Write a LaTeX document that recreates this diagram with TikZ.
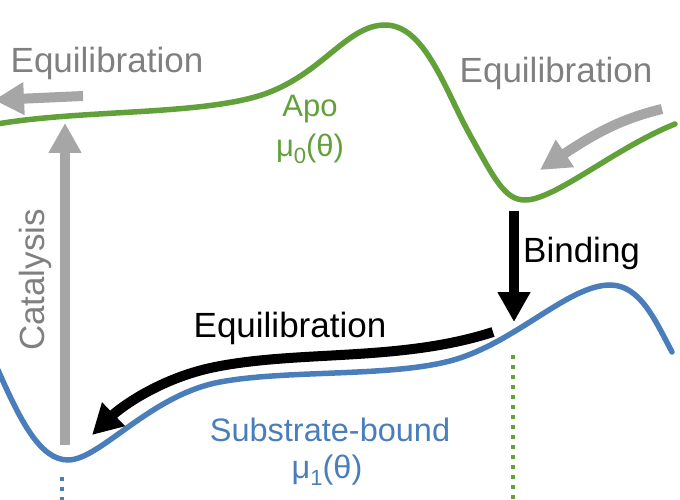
\documentclass[tikz,border=0pt]{standalone}
\usepackage{fontspec}
\setmainfont{Liberation Sans}
\usetikzlibrary{arrows.meta}
\definecolor{apogreen}{RGB}{98,160,58}
\definecolor{subblue}{RGB}{74,126,187}
\definecolor{arrgray}{RGB}{166,166,166}
\definecolor{txtgray}{RGB}{128,128,128}
\newcommand{\mysub}[1]{\raisebox{-0.22em}{\fontsize{22}{22}\selectfont #1}}
\tikzset{
  curve/.style={line width=5.5pt, line cap=round},
  fatarrow/.style={line width=10pt, -{Triangle[length=30pt,width=31pt]}},
  lbl/.style={inner sep=0pt, anchor=base},
  big/.style={font=\fontsize{35}{35}\selectfont},
  mid/.style={font=\fontsize{31}{38}\selectfont},
  dotline/.style={line width=4pt, dash pattern=on 4pt off 6pt}
}
\begin{document}
\begin{tikzpicture}[x=1pt,y=-1pt]
\useasboundingbox (0,0) rectangle (680,500);
% energy curves
\draw[curve, apogreen] (-3,124) .. controls (80,110) and (190,115) .. (255,97)
  .. controls (320,79) and (345,25) .. (385,25)
  .. controls (425,25) and (445,90) .. (470,135)
  .. controls (495,180) and (505,200) .. (525,200)
  .. controls (555,200) and (615,148) .. (675,124);
\draw[curve, subblue] (-2,370) .. controls (20,420) and (40,460) .. (68,460)
  .. controls (100,460) and (150,395) .. (220,382)
  .. controls (290,369) and (400,378) .. (460,358)
  .. controls (520,338) and (570,285) .. (610,285)
  .. controls (640,285) and (655,320) .. (672,352);
% dotted markers
\coordinate (gdotA) at (513,355);
\coordinate (gdotB) at (513,502);
\coordinate (bdotA) at (62,477);
\coordinate (bdotB) at (62,502);
\draw[dotline, apogreen] (gdotA) -- (gdotB);
\draw[dotline, subblue] (bdotA) -- (bdotB);
% arrows
\coordinate (tlS) at (83,96);
\coordinate (tlE) at (-6,100);
\draw[fatarrow, arrgray] (tlS) -- (tlE);
\coordinate (trS) at (662,109);
\coordinate (trE) at (540,170);
\draw[fatarrow, arrgray] (trS) .. controls (625,118) and (600,130) .. (trE);
\coordinate (catS) at (65,445);
\coordinate (catE) at (65,123);
\draw[fatarrow, arrgray] (catS) -- (catE);
\coordinate (binS) at (514,211);
\coordinate (binE) at (514,322);
\draw[fatarrow, black] (binS) -- (binE);
\coordinate (eqS) at (493,332);
\coordinate (eqM) at (215,367);
\coordinate (eqE) at (92,435);
\draw[fatarrow, black] (eqS) .. controls (400,362) and (300,350) .. (eqM) .. controls (160,378) and (120,408) .. (eqE);
% labels
\node[lbl, big, text=txtgray] (eqtl) at (107,73) {Equilibration};
\node[lbl, big, text=txtgray] (eqtr) at (556,83) {Equilibration};
\node[lbl, big, text=black] (eqbl) at (290,337) {Equilibration};
\node[lbl, big, text=black, anchor=base west] (bind) at (523,262) {Binding};
\node[lbl, big, text=txtgray, rotate=90] (cat) at (44,280) {Catalysis};
\node[lbl, mid, text=apogreen] (apo) at (310,117) {Apo};
\node[lbl, mid, text=apogreen] (mu0) at (310,157) {μ\mysub{0}(θ)};
\node[lbl, font=\fontsize{32.5}{38}\selectfont, text=subblue] (sub) at (330,441) {Substrate-bound};
\node[lbl, font=\fontsize{32.5}{38}\selectfont, text=subblue] (mu1) at (327,478) {μ\mysub{1}(θ)};
\end{tikzpicture}
\end{document}
